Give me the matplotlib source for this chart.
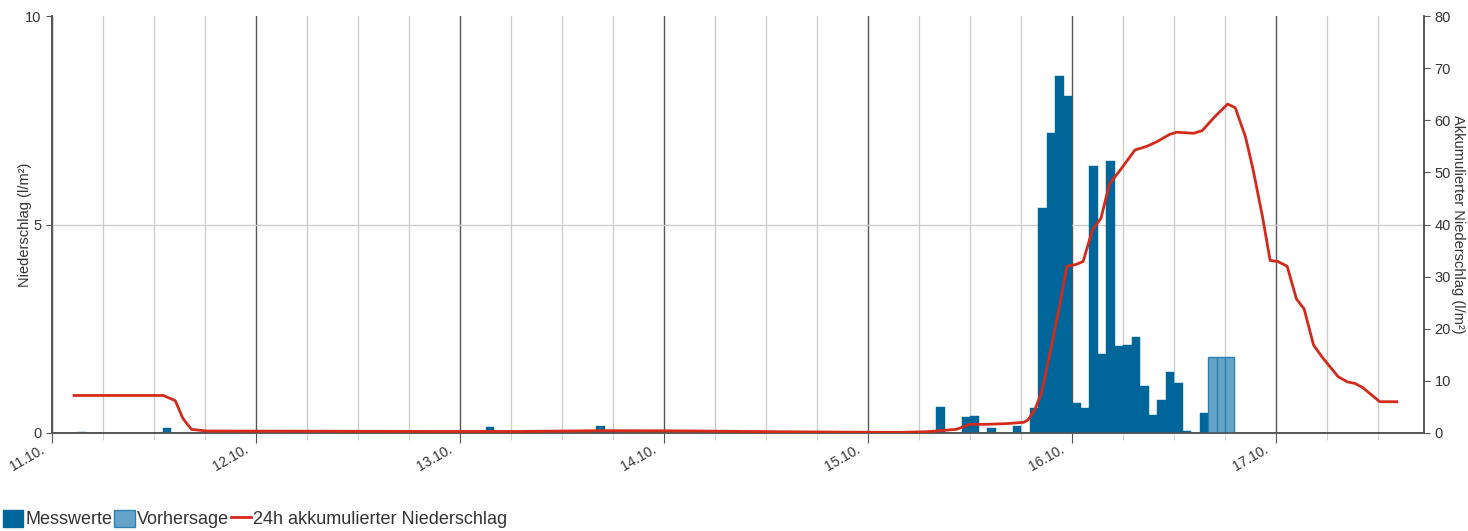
import matplotlib
matplotlib.use('Agg')
import matplotlib.pyplot as plt
from matplotlib.ticker import MultipleLocator
from matplotlib.patches import Patch
from matplotlib.lines import Line2D

plt.rcParams['font.family'] = ['Liberation Sans', 'DejaVu Sans']

day_labels = ['11.10.', '12.10.', '13.10.', '14.10.', '15.10.', '16.10.', '17.10.']

# hourly measured precipitation, hours counted from 11.10. 00:00
meas_hours = [3, 13, 48, 51, 64, 103, 104, 107, 108, 110, 113, 115,
              116, 117, 118, 119, 120, 121, 122, 123, 124, 125, 126, 127,
              128, 129, 130, 131, 132, 133, 135]
meas_vals = [0.03, 0.13, 0.03, 0.14, 0.17, 0.05, 0.63, 0.38, 0.41, 0.13, 0.17, 0.59,
             5.4, 7.19, 8.55, 8.07, 0.71, 0.61, 6.4, 1.89, 6.53, 2.09, 2.11, 2.31,
             1.13, 0.43, 0.79, 1.47, 1.19, 0.04, 0.49]

# forecast
fc_hours = [136, 137, 138]
fc_vals = [1.83, 1.83, 1.83]

# 24h accumulated precipitation (right axis)
acc_hours = [2.6, 13.1, 14.5, 15.4, 16.4, 18.2, 30, 45, 55, 65, 75, 85, 95, 100,
             103, 106.4, 108, 110, 112.3, 114.3, 114.8, 115.6, 116.4, 117.4, 118.5,
             119.4, 120.4, 121.3, 122.4, 123.4, 124.4, 125.6, 127.4, 128.8, 130.0,
             131.5, 132.3, 134.3, 135.3, 136.8, 138.3, 139.2, 140.4, 141.3, 142.4,
             143.3, 144.2, 145.3, 146.4, 147.3, 148.4, 149.4, 151.3, 152.4, 153.3,
             154.2, 156.2, 158.2]
acc_vals = [7.2, 7.2, 6.2, 2.8, 0.7, 0.38, 0.35, 0.3, 0.3, 0.45, 0.4, 0.25, 0.15, 0.13,
            0.25, 0.7, 1.67, 1.67, 1.8, 2.05, 2.5, 4.4, 7.7, 15.3, 24.2,
            32.0, 32.3, 32.9, 39.0, 41.2, 47.8, 50.3, 54.3, 55.0, 55.9,
            57.3, 57.7, 57.5, 58.0, 60.7, 63.1, 62.4, 56.8, 50.5, 41.5,
            33.1, 32.9, 32.0, 25.7, 23.8, 16.9, 14.6, 10.8, 9.8, 9.5,
            8.7, 6.0, 6.0]

MEAS_COLOR = '#006699'
FC_COLOR = '#66a3c8'
FC_EDGE = '#2f80b2'
LINE_COLOR = '#d42a1a'
TEXT_COLOR = '#333333'

fig = plt.figure(figsize=(14.68, 5.31), dpi=100)
ax = fig.add_axes([52 / 1468, 1 - 433 / 531, 1372 / 1468, 417 / 531])
ax2 = ax.twinx()

ax.bar(meas_hours, meas_vals, width=1.0, align='edge', color=MEAS_COLOR,
       edgecolor=MEAS_COLOR, linewidth=0.3, zorder=3)
ax.bar(fc_hours, fc_vals, width=1.0, align='edge', color=FC_COLOR,
       edgecolor=FC_EDGE, linewidth=1.0, zorder=3)

ax2.plot(acc_hours, acc_vals, color=LINE_COLOR, linewidth=2.0,
         solid_joinstyle='round', zorder=4)

ax.set_xlim(0, 161.4)
ax.set_ylim(0, 10)
ax2.set_ylim(0, 80)

day_ticks = list(range(0, 24 * len(day_labels), 24))
ax.set_xticks(day_ticks)
ax.set_xticklabels([])
# rotated day labels, placed by hand just left of each tick
for pos, lab in zip(day_ticks, day_labels):
    ax.annotate(lab, xy=(pos, 0), xycoords=('data', 'axes fraction'),
                xytext=(-9, -7), textcoords='offset points', rotation=30,
                ha='right', va='top', rotation_mode='anchor',
                fontsize=10, color=TEXT_COLOR, annotation_clip=False)
ax.xaxis.set_minor_locator(MultipleLocator(6))
ax.set_yticks([0, 5, 10])
ax.tick_params(axis='y', labelsize=10.5, colors=TEXT_COLOR, length=4, color='#555555')
ax.tick_params(axis='x', which='major', length=7, color='#555555', pad=4)
ax.tick_params(axis='x', which='minor', length=5, color='#cccccc')

ax.xaxis.grid(True, which='major', color='#555555', linewidth=1.0)
ax.xaxis.grid(True, which='minor', color='#cccccc', linewidth=1.0)
ax.yaxis.grid(True, color='#cccccc', linewidth=1.0)
ax.get_ygridlines()[-1].set_visible(False)
ax.set_axisbelow(True)

ax2.set_yticks(range(0, 81, 10))
ax2.tick_params(axis='y', labelsize=10.5, colors=TEXT_COLOR, length=4, color='#555555')

for a in (ax, ax2):
    a.spines['top'].set_visible(False)
    for side in ('left', 'right', 'bottom'):
        a.spines[side].set_color('#555555')
        a.spines[side].set_linewidth(1.2)

ax.set_ylabel('Niederschlag (l/m²)', fontsize=10.5, color=TEXT_COLOR)
ax.yaxis.set_label_coords(-0.0145, 0.5)
ax2.set_ylabel('Akkumulierter Niederschlag (l/m²)', fontsize=10.5, color=TEXT_COLOR,
               rotation=-90, va='center', ha='center', rotation_mode='anchor')
ax2.yaxis.set_label_coords(1.0248, 0.5)

handles = [
    Patch(facecolor=MEAS_COLOR, edgecolor=MEAS_COLOR),
    Patch(facecolor=FC_COLOR, edgecolor=FC_EDGE, linewidth=1.0),
    Line2D([0], [0], color=LINE_COLOR, linewidth=2.0),
]
labels = ['Messwerte', 'Vorhersage', '24h akkumulierter Niederschlag']
leg = fig.legend(handles, labels, loc='lower left', bbox_to_anchor=(0.0, 0.0),
                 ncol=3, frameon=False, fontsize=13, handlelength=1.15,
                 handleheight=1.05, handletextpad=0.1, columnspacing=0.1,
                 borderaxespad=0.1, borderpad=0.05)
for t in leg.get_texts():
    t.set_color(TEXT_COLOR)

fig.savefig('out.png', dpi=100)
